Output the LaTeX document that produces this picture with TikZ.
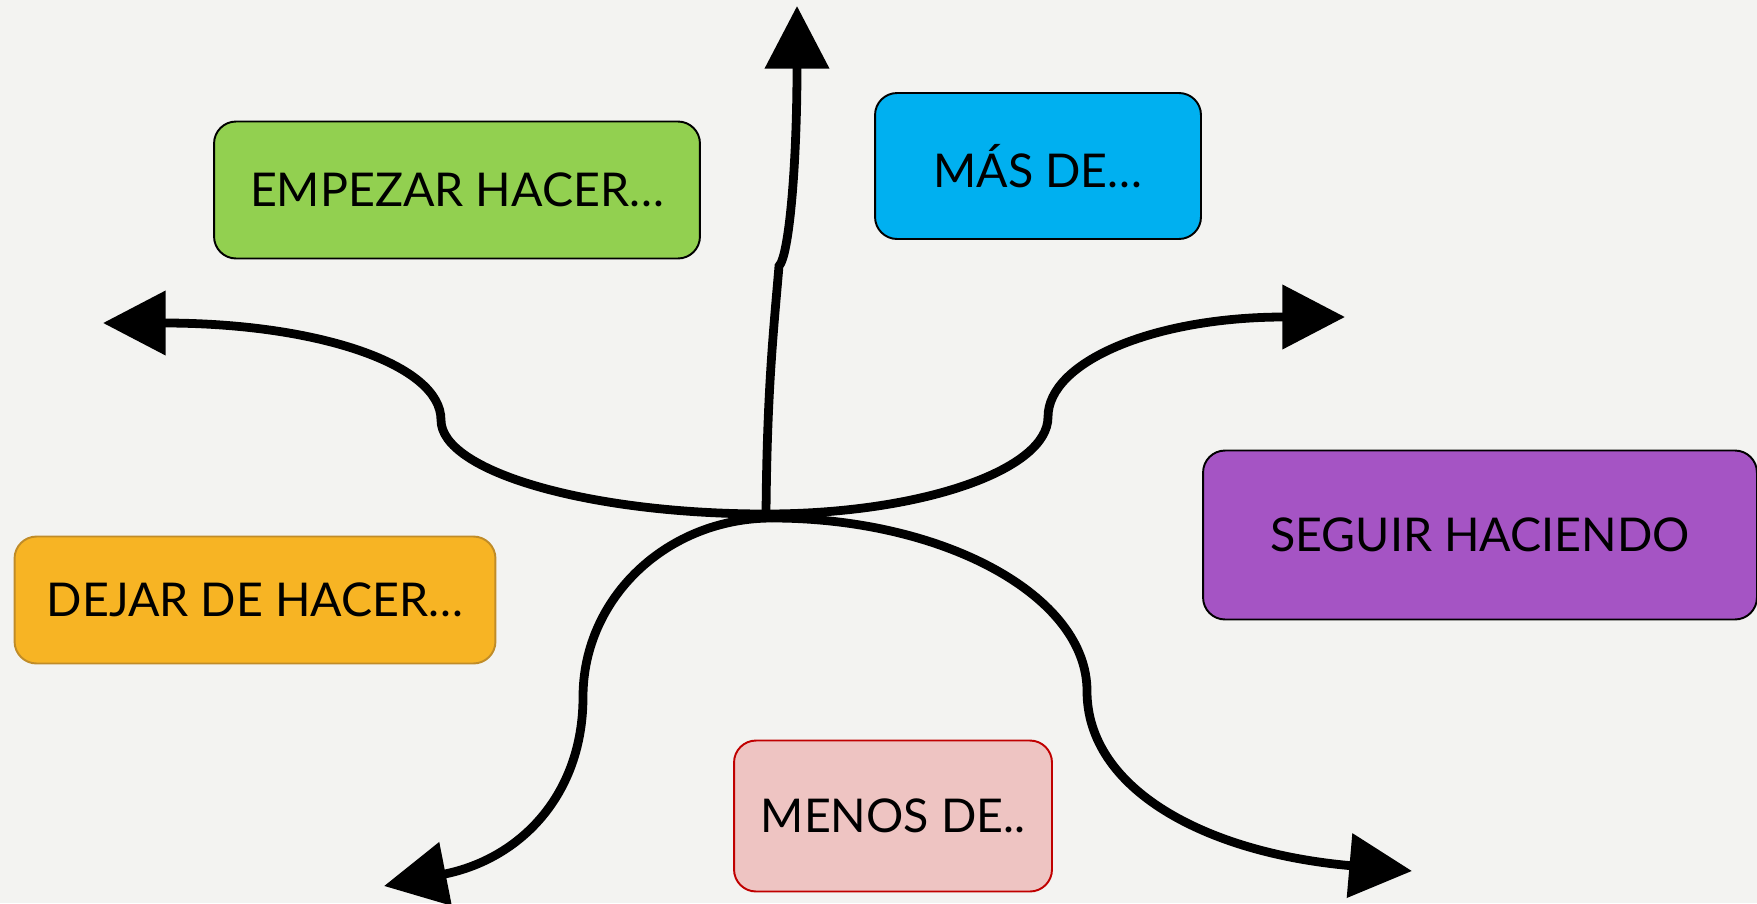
\documentclass[tikz,border=0pt]{standalone}
\usepackage{fontspec}
\setmainfont{Lato}
\usetikzlibrary{arrows.meta}
\definecolor{paper}{RGB}{243,243,241}
\definecolor{startcol}{RGB}{146,208,80}
\definecolor{morecol}{RGB}{0,176,240}
\definecolor{keepcol}{RGB}{165,84,196}
\definecolor{stopcol}{RGB}{247,180,36}
\definecolor{stopline}{RGB}{192,140,40}
\definecolor{lesscol}{RGB}{238,196,194}
\definecolor{lessline}{RGB}{192,0,0}

\begin{document}
\begin{tikzpicture}[
  x=0.02cm, y=-0.02cm,
  card/.style={
    rectangle, rounded corners=0.44cm,
    draw=black, line width=1.1pt, inner sep=0pt,
    text centered, font=\fontsize{26.5}{30}\selectfont
  },
  branch/.style={-{Triangle[length=35.7pt, width=35.7pt]}, line width=5pt, draw=black}
]

% ── Canvas ──
\fill[paper] (0,0) rectangle (1757,903);
\useasboundingbox (0,0) rectangle (1757,903);

% ── Cards ──
\node[card, fill=startcol, minimum width=9.72cm, minimum height=2.74cm] (empezar) at (457,190) {EMPEZAR HACER…};
\node[card, fill=morecol, minimum width=6.52cm, minimum height=2.92cm] (mas) at (1038,166) {MÁS DE…};
\node[card, fill=keepcol, minimum width=11.08cm, minimum height=3.38cm] (seguir) at (1480,535) {SEGUIR HACIENDO};
\node[card, fill=stopcol, draw=stopline, minimum width=9.62cm, minimum height=2.54cm] (dejar) at (255,600) {DEJAR DE HACER…};
\node[card, fill=lesscol, draw=lessline, minimum width=6.36cm, minimum height=3.02cm] (menos) at (893,816) {MENOS DE..};

% ── Hub, knees and tips ──
\coordinate (hub) at (766,514);
\coordinate (hublow) at (772,518);
\coordinate (kneeN) at (779,266);
\coordinate (kneeNW) at (441,420);
\coordinate (kneeNE) at (1048,417);
\coordinate (kneeSW) at (583,697);
\coordinate (kneeSE) at (1087,691);
\coordinate (tipN) at (797,6);
\coordinate (tipNW) at (103,323);
\coordinate (tipNE) at (1345,317);
\coordinate (tipSW) at (384,886);
\coordinate (tipSE) at (1412,871);

% ── Branches ──
\draw[branch] (hub) .. controls +(1,-120) and +(-6,70) .. (kneeN)
  .. controls +(10,-10) and +(0,160) .. (tipN);
\draw[branch] (hub) .. controls +(-179,0) and +(0,51) .. (kneeNW)
  .. controls +(0,-55) and +(216,0) .. (tipNW);
\draw[branch] (hub) .. controls +(155,0) and +(0,53) .. (kneeNE)
  .. controls +(0,-55) and +(-192,0) .. (tipNE);
\draw[branch] (hublow) .. controls +(-105,0) and +(0,-99) .. (kneeSW)
  .. controls +(0,97) and +(137,-27) .. (tipSW);
\draw[branch] (hublow) .. controls +(172,0) and +(0,-95) .. (kneeSE)
  .. controls +(0,98) and +(-207,-18) .. (tipSE);

\end{tikzpicture}
\end{document}
